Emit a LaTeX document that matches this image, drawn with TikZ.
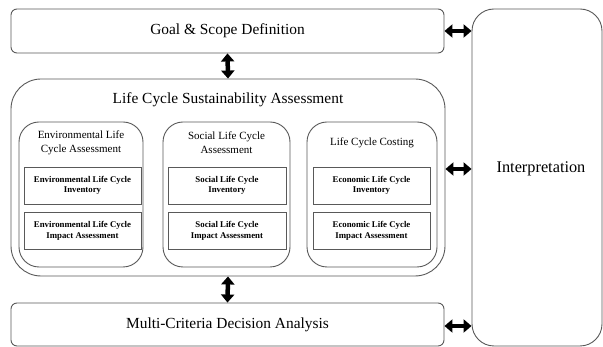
\documentclass[tikz,border=0pt]{standalone}
\usepackage{fontspec}
\setmainfont{Liberation Serif}
\usetikzlibrary{arrows.meta,calc}
\begin{document}
\begin{tikzpicture}[x=1pt,y=-1pt,
  box/.style={draw=black!65, line width=0.9pt, rounded corners=#1, inner sep=0pt, fill=white},
  box/.default=5pt,
  rectbox/.style={draw=black!65, line width=0.8pt, inner sep=0pt, minimum width=117pt, minimum height=37pt, align=center, font=\bfseries\fontsize{8.8}{10.5}\selectfont},
  bigtext/.style={font=\fontsize{15.4}{18}\selectfont},
  midtext/.style={font=\fontsize{11}{14}\selectfont, align=center},
  dbl/.style={line width=4.5pt, {Triangle[length=8pt,width=13pt]}-{Triangle[length=8pt,width=13pt]}}
]
\useasboundingbox (0,0) rectangle (603,347);

% outer boxes
\node[box=6pt, minimum width=433pt, minimum height=44pt, bigtext] (goal) at (227.5,31) {Goal \& Scope Definition};
\node[box=22pt, minimum width=130pt, minimum height=337pt] (interp) at (537,177.5) {};
\node[bigtext, font=\fontsize{16.3}{19}\selectfont] (interptext) at (541,169) {Interpretation};
\node[box=30pt, minimum width=434pt, minimum height=197pt] (lcsa) at (228,177.5) {};
\node[bigtext] (lcsatitle) at (228,100) {Life Cycle Sustainability Assessment};
\node[box=6pt, minimum width=433pt, minimum height=43pt, bigtext] (mcda) at (227.5,324.5) {Multi-Criteria Decision Analysis};

% environmental
\node[box=20pt, minimum width=124pt, minimum height=145pt] (env) at (81,194.5) {};
\node[midtext] (envt) at (81,143) {Environmental Life\\Cycle Assessment};
\node[rectbox] (envinv) at (82.5,185.5) {Environmental Life Cycle\\Inventory};
\node[rectbox] (envimp) at (82.5,231) {Environmental Life Cycle\\Impact Assessment};

% social
\node[box=20pt, minimum width=127pt, minimum height=145pt] (soc) at (226.5,194.5) {};
\node[midtext] (soct) at (226.5,143) {Social Life Cycle\\Assessment};
\node[rectbox, minimum width=118pt] (socinv) at (227,185.5) {Social Life Cycle\\Inventory};
\node[rectbox, minimum width=118pt] (socimp) at (227,231) {Social Life Cycle\\Impact Assessment};

% costing
\node[box=20pt, minimum width=130pt, minimum height=145pt] (lcc) at (372,194.5) {};
\node[midtext] (lcct) at (372,143) {Life Cycle Costing};
\node[rectbox] (lccinv) at (371.5,185.5) {Economic Life Cycle\\Inventory};
\node[rectbox] (lccimp) at (371.5,231) {Economic Life Cycle\\Impact Assessment};

% arrows
\draw[dbl] (goal.south) -- (lcsa.north);
\draw[dbl] (lcsa.south) -- (mcda.north);
\draw[dbl] (goal.east) -- (goal.east -| interp.west);
\draw[dbl] (interptext -| lcsa.east) -- (interptext -| interp.west);
\draw[dbl] ($(mcda.east)+(0,1.5)$) -- ($(mcda.east -| interp.west)+(0,1.5)$);
\end{tikzpicture}
\end{document}
